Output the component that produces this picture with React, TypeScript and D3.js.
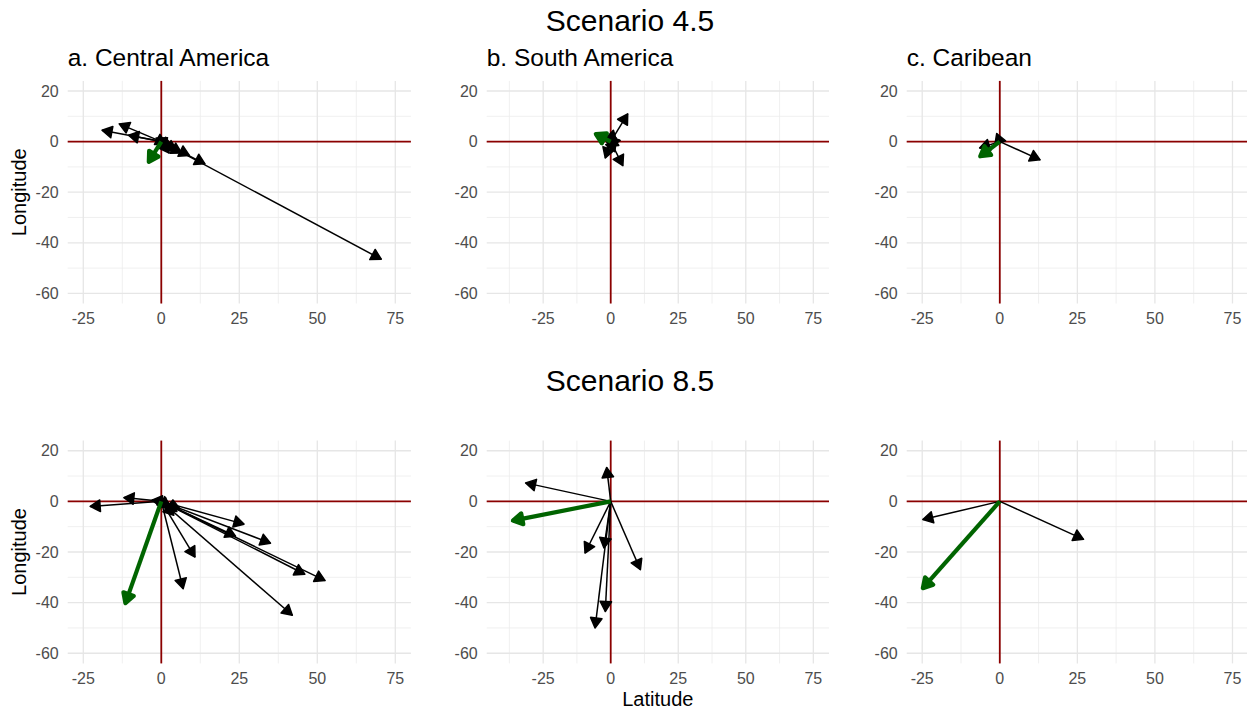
import React from "react";
import * as d3 from "d3";

// ---------- data ----------
const xTickValues = [-25, 0, 25, 50, 75];
const yTickValues = [20, 0, -20, -40, -60];
const rowTitles = ["Scenario 4.5", "Scenario 8.5"];
const panelTitles = ["a. Central America", "b. South America", "c. Caribean"];

// Scenario 4.5 — arrow end points (arrows start at the origin)
const ca45X = [70.5, 14, 9, 6.5, 5, 2.5, -19, -13.5, -10.5, 1.5, 2, 3.5];
const ca45Y = [-46.5, -8.8, -5.5, -4.5, -3.5, -4.5, 4.5, 7, 2.5, -1, 1.5, -2];
const ca45GreenX = [-4];
const ca45GreenY = [-8];

const sa45X = [6.3, 4.5, -2, 1, 3, 2, -1, 3.5, 1.5];
const sa45Y = [11, -9.5, -6.5, 4.5, -1.5, 1.5, -2.5, 0.5, -4];
const sa45GreenX = [-5.5];
const sa45GreenY = [3];

const cb45X = [13, -1, -6.5];
const cb45Y = [-7.2, 3.2, -2.5];
const cb45GreenX = [-6.3];
const cb45GreenY = [-5.8];

// Scenario 8.5
const ca85X = [-22.8, -12, -3, 7, 10.8, 42, 52.5, 46, 35, 26.5, 23.8, 3, 5, 4, 2, 6];
const ca85Y = [-2, 1.5, 0.5, -34.5, -22, -45, -31.3, -28.8, -16.5, -9, -13.8, -2, -4, -5.5, -3, -3];
const ca85GreenX = [-11.5];
const ca85GreenY = [-40.2];

const sa85X = [-31.5, -1.5, -9.5, -2.5, -2, -5.8, 11];
const sa85Y = [7.3, 13.4, -20.4, -18.4, -43.5, -50, -27];
const sa85GreenX = [-36.2];
const sa85GreenY = [-7.6];

const cb85X = [-24.8, 27];
const cb85Y = [-7.2, -15];
const cb85GreenX = [-24.8];
const cb85GreenY = [-34.3];

// ---------- layout ----------
const W = 1247;
const H = 711;
const FONT = "'Liberation Sans', Arial, Helvetica, sans-serif";

const columns = [
  { left: 67.7, right: 410.9, xlim: [-30, 80] },
  { left: 486.7, right: 829, xlim: [-45.9, 80.8] },
  { left: 906.7, right: 1248, xlim: [-30, 80] },
];
const rows = [
  { top: 80.9, bottom: 303.5 },
  { top: 440.6, bottom: 663.4 },
];
const ylim = [-64, 24];

type Vec = { x: number; y: number };
const zip = (xs: number[], ys: number[]): Vec[] => xs.map((x, i) => ({ x, y: ys[i] }));

const panelData = [
  [
    { black: zip(ca45X, ca45Y), green: zip(ca45GreenX, ca45GreenY) },
    { black: zip(sa45X, sa45Y), green: zip(sa45GreenX, sa45GreenY) },
    { black: zip(cb45X, cb45Y), green: zip(cb45GreenX, cb45GreenY) },
  ],
  [
    { black: zip(ca85X, ca85Y), green: zip(ca85GreenX, ca85GreenY) },
    { black: zip(sa85X, sa85Y), green: zip(sa85GreenX, sa85GreenY) },
    { black: zip(cb85X, cb85Y), green: zip(cb85GreenX, cb85GreenY) },
  ],
];

function Arrow({ x0, y0, x1, y1, color, width, head }: any) {
  const ang = Math.atan2(y1 - y0, x1 - x0);
  const a = Math.PI / 6;
  const p1 = [x1 - head * Math.cos(ang - a), y1 - head * Math.sin(ang - a)];
  const p2 = [x1 - head * Math.cos(ang + a), y1 - head * Math.sin(ang + a)];
  const pts = `${x1},${y1} ${p1[0]},${p1[1]} ${p2[0]},${p2[1]}`;
  return (
    <g>
      <line x1={x0} y1={y0} x2={x1} y2={y1} stroke={color} strokeWidth={width} strokeLinecap="butt" />
      <polygon points={pts} fill={color} stroke={color} strokeWidth={width} strokeLinejoin="round" />
    </g>
  );
}

function Panel({ r, c }: { r: number; c: number }) {
  const col = columns[c];
  const row = rows[r];
  const x = d3.scaleLinear().domain(col.xlim).range([col.left, col.right]);
  const y = d3.scaleLinear().domain(ylim).range([row.bottom, row.top]);
  const [x0, x1] = col.xlim;
  const majorX = d3.range(-100, 101, 25).filter((v) => v >= x0 && v <= x1);
  const minorX = d3.range(-112.5, 113, 25).filter((v) => v >= x0 && v <= x1);
  const majorY = d3.range(-80, 41, 20).filter((v) => v >= ylim[0] && v <= ylim[1]);
  const minorY = d3.range(-90, 41, 20).filter((v) => v >= ylim[0] && v <= ylim[1]);
  const data = panelData[r][c];
  return (
    <g>
      {minorX.map((v) => (
        <line key={"mx" + v} x1={x(v)} x2={x(v)} y1={row.top} y2={row.bottom} stroke="#ececec" strokeWidth={0.8} />
      ))}
      {minorY.map((v) => (
        <line key={"my" + v} x1={col.left} x2={col.right} y1={y(v)} y2={y(v)} stroke="#ececec" strokeWidth={0.8} />
      ))}
      {majorX.map((v) => (
        <line key={"Mx" + v} x1={x(v)} x2={x(v)} y1={row.top} y2={row.bottom} stroke="#e6e6e6" strokeWidth={1.3} />
      ))}
      {majorY.map((v) => (
        <line key={"My" + v} x1={col.left} x2={col.right} y1={y(v)} y2={y(v)} stroke="#e6e6e6" strokeWidth={1.3} />
      ))}
      {/* reference lines */}
      <line x1={col.left} x2={col.right} y1={y(0)} y2={y(0)} stroke="#8b0000" strokeWidth={1.8} />
      <line x1={x(0)} x2={x(0)} y1={row.top} y2={row.bottom} stroke="#8b0000" strokeWidth={1.8} />
      {/* tick labels */}
      {xTickValues.filter((v) => v >= x0 && v <= x1).map((v) => (
        <text key={"tx" + v} x={x(v)} y={row.bottom + 20.2} textAnchor="middle" fontSize={16} fill="#4d4d4d" fontFamily={FONT}>
          {v}
        </text>
      ))}
      {yTickValues.map((v) => (
        <text key={"ty" + v} x={col.left - 9} y={y(v) + 5.7} textAnchor="end" fontSize={16} fill="#4d4d4d" fontFamily={FONT}>
          {v}
        </text>
      ))}
      {/* arrows */}
      {data.black.map((d, i) => (
        <Arrow key={"b" + i} x0={x(0)} y0={y(0)} x1={x(d.x)} y1={y(d.y)} color="#000000" width={1.5} head={11.5} />
      ))}
      {data.green.map((d, i) => (
        <Arrow key={"g" + i} x0={x(0)} y0={y(0)} x1={x(d.x)} y1={y(d.y)} color="#006400" width={4.2} head={11} />
      ))}
    </g>
  );
}

export default function App() {
  return (
    <svg width={W} height={H} style={{ position: "absolute", left: 0, top: 0, background: "#fff" }} fontFamily={FONT}>
      <rect x={0} y={0} width={W} height={H} fill="#ffffff" />
      <text x={630} y={30.5} textAnchor="middle" fontSize={30} fill="#000">{rowTitles[0]}</text>
      <text x={630} y={390.5} textAnchor="middle" fontSize={30} fill="#000">{rowTitles[1]}</text>
      {panelTitles.map((t, c) => (
        <text key={t} x={columns[c].left} y={66} fontSize={24.5} fill="#000">{t}</text>
      ))}
      {[0, 1].map((r) => [0, 1, 2].map((c) => <Panel key={r + "-" + c} r={r} c={c} />))}
      {rows.map((row, r) => (
        <text key={"yl" + r} transform={`translate(26,${(row.top + row.bottom) / 2}) rotate(-90)`} textAnchor="middle" fontSize={20} fill="#000">
          Longitude
        </text>
      ))}
      <text x={(columns[1].left + columns[1].right) / 2} y={706} textAnchor="middle" fontSize={20} fill="#000">
        Latitude
      </text>
    </svg>
  );
}
